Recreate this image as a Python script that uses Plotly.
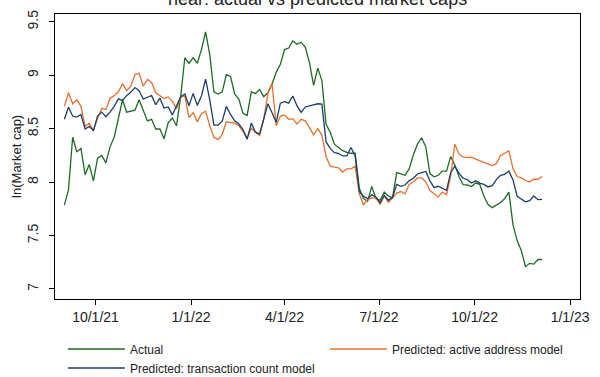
import pandas as pd
import plotly.graph_objects as go

# Sampling dates (every 4 days from 1 Sep 2021)
dates = pd.date_range("2021-09-01", periods=116, freq="4D")

actual = [
    7.785, 7.93, 8.42, 8.285, 8.315, 8.07, 8.164, 8.012, 8.224, 8.25,
    8.18, 8.33, 8.42, 8.60, 8.77, 8.655, 8.664, 8.673, 8.77, 8.68,
    8.573, 8.588, 8.497, 8.497, 8.406, 8.558, 8.60, 8.527, 8.80, 9.164,
    9.11, 9.164, 9.112, 9.24, 9.406, 9.194, 8.845, 8.824, 8.845, 9.006,
    8.988, 8.824, 8.776, 8.643, 8.624, 8.845, 8.83, 8.867, 8.80, 8.836,
    8.92, 9.027, 9.103, 9.24, 9.255, 9.321, 9.291, 9.309, 9.261, 9.118,
    8.906, 9.067, 8.95, 8.542, 8.467, 8.355, 8.324, 8.294, 8.279, 8.27,
    8.27, 7.942, 7.845, 7.82, 7.96, 7.845, 7.83, 7.906, 7.87, 7.852,
    8.088, 8.073, 8.064, 8.124, 8.254, 8.355, 8.415, 8.33, 8.08, 8.05,
    8.064, 8.103, 8.103, 8.239, 8.157, 8.052, 7.976, 7.973, 7.958, 7.991,
    7.979, 7.867, 7.791, 7.761, 7.788, 7.809, 7.845, 7.906, 7.60, 7.451,
    7.36, 7.209, 7.24, 7.233, 7.276, 7.276,
]

pred_active = [
    8.709, 8.836, 8.733, 8.77, 8.709, 8.521, 8.552, 8.482, 8.597, 8.691,
    8.679, 8.782, 8.809, 8.845, 8.921, 8.855, 8.897, 9.006, 9.018, 8.897,
    8.961, 8.933, 8.836, 8.806, 8.782, 8.797, 8.755, 8.685, 8.794, 8.806,
    8.603, 8.649, 8.564, 8.64, 8.664, 8.527, 8.418, 8.40, 8.445, 8.564,
    8.558, 8.552, 8.527, 8.476, 8.412, 8.503, 8.467, 8.436, 8.588, 8.83,
    8.92, 8.527, 8.618, 8.627, 8.588, 8.594, 8.543, 8.588, 8.573, 8.512,
    8.443, 8.50, 8.44, 8.24, 8.149, 8.14, 8.133, 8.094, 8.124, 8.124,
    8.149, 7.891, 7.785, 7.836, 7.852, 7.852, 7.791, 7.87, 7.809, 7.852,
    7.897, 7.912, 7.891, 7.979, 8.003, 8.039, 8.039, 8.003, 7.921, 7.891,
    7.861, 7.906, 7.882, 8.058, 8.355, 8.264, 8.233, 8.23, 8.233, 8.215,
    8.20, 8.188, 8.176, 8.155, 8.173, 8.249, 8.27, 8.294, 8.124, 8.052,
    8.04, 8.015, 8.003, 8.027, 8.027, 8.052,
]

pred_txn = [
    8.588, 8.70, 8.618, 8.609, 8.633, 8.497, 8.521, 8.482, 8.618, 8.655,
    8.612, 8.655, 8.709, 8.779, 8.764, 8.809, 8.84, 8.885, 8.855, 8.776,
    8.794, 8.809, 8.724, 8.785, 8.694, 8.703, 8.627, 8.715, 8.80, 8.824,
    8.715, 8.83, 8.718, 8.806, 8.964, 8.77, 8.534, 8.534, 8.57, 8.709,
    8.633, 8.573, 8.543, 8.491, 8.40, 8.552, 8.467, 8.452, 8.582, 8.733,
    8.649, 8.558, 8.739, 8.752, 8.739, 8.806, 8.715, 8.652, 8.703, 8.715,
    8.721, 8.733, 8.73, 8.376, 8.315, 8.276, 8.27, 8.245, 8.245, 8.324,
    8.245, 7.912, 7.867, 7.845, 7.882, 7.861, 7.806, 7.876, 7.83, 7.858,
    7.979, 7.961, 7.973, 8.012, 8.036, 8.076, 8.088, 8.10, 8.012, 7.948,
    7.961, 7.945, 7.924, 8.088, 8.149, 8.082, 8.036, 8.024, 7.991, 8.012,
    7.991, 7.979, 7.955, 7.967, 8.024, 8.064, 8.073, 8.103, 8.021, 7.867,
    7.845, 7.815, 7.827, 7.87, 7.836, 7.839,
]

series_names = ["Actual", "Predicted: active address model",
                "Predicted: transaction count model"]
series_colors = ["#1d6b22", "#e8702c", "#1c3d6c"]

x_tick_vals = ["2021-10-01", "2022-01-01", "2022-04-01", "2022-07-01",
               "2022-10-01", "2023-01-01"]
x_tick_text = ["10/1/21", "1/1/22", "4/1/22", "7/1/22", "10/1/22", "1/1/23"]
y_tick_vals = [7, 7.5, 8, 8.5, 9, 9.5]
y_tick_text = ["7", "7.5", "8", "8.5", "9", "9.5"]

FONT = "Liberation Sans, Arial, sans-serif"

fig = go.Figure()
for name, vals, col in zip(series_names, [actual, pred_active, pred_txn], series_colors):
    fig.add_trace(go.Scatter(x=dates, y=vals, mode="lines", name=name,
                             line=dict(color=col, width=1.3)))

fig.update_layout(
    width=600, height=377,
    margin=dict(l=55, r=14, t=10, b=74),
    paper_bgcolor="white", plot_bgcolor="white",
    font=dict(family=FONT, color="#222222"),
    showlegend=True,
    legend=dict(orientation="h", xref="paper", x=0.01507, xanchor="left",
                yref="container", y=0.1127, yanchor="top",
                entrywidth=190, entrywidthmode="pixels", itemwidth=57,
                font=dict(size=12, color="#222222"), tracegroupgap=0,
                bgcolor="rgba(0,0,0,0)"),
    annotations=[dict(text="near: actual vs predicted market caps",
                      xref="paper", x=0.5, xanchor="center",
                      yref="paper", y=1.0, yanchor="bottom", yshift=3,
                      showarrow=False, font=dict(size=18, color="#222222"))],
)
fig.update_xaxes(
    range=["2021-08-23", "2023-01-10 12:00"],
    tickvals=x_tick_vals, ticktext=x_tick_text,
    ticks="outside", ticklen=5, tickcolor="black", tickwidth=1,
    showline=True, linecolor="black", linewidth=1, mirror=True,
    showgrid=False, zeroline=False,
    tickfont=dict(size=14, color="#222222"),
)
fig.update_yaxes(
    range=[6.909, 9.573],
    tickvals=y_tick_vals, ticktext=y_tick_text, tickangle=-90,
    ticks="outside", ticklen=5, tickcolor="black", tickwidth=1,
    ticklabelstandoff=5,
    showline=True, linecolor="black", linewidth=1, mirror=True,
    showgrid=False, zeroline=False,
    tickfont=dict(size=14, color="#222222"),
    title=dict(text="ln(Market cap)", font=dict(size=13, color="#222222"), standoff=0),
)

fig.write_html("out.html", config={"displayModeBar": False},
               post_script="document.body.style.margin='0px';document.body.style.padding='0px';")
